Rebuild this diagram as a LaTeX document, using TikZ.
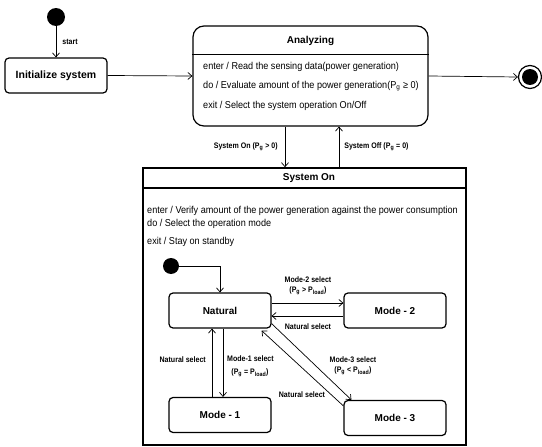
\documentclass[tikz,border=0pt]{standalone}
\usepackage{fontspec}
\setmainfont{Liberation Sans}
\newfontfamily\condfont{Liberation Sans}[FakeStretch=0.91]
\newfontfamily\lblfont{Liberation Sans}[FakeStretch=0.88]
\usetikzlibrary{arrows.meta,calc}
\begin{document}
\begin{tikzpicture}[x=1pt,y=-1pt,
  statebox/.style={draw, line width=1.2pt, rounded corners=4pt, minimum width=102pt, minimum height=35pt, font=\fontsize{10}{12}\selectfont\bfseries, inner sep=0pt},
  arr/.style={-{Straight Barb[length=4pt,width=7pt]}, line width=0.7pt},
  lbl/.style={font=\lblfont\fontsize{8}{9.5}\selectfont\bfseries, inner sep=0pt},
  body/.style={font=\condfont\fontsize{10}{12}\selectfont, inner sep=0pt, anchor=west},
  title/.style={font=\fontsize{10}{12}\selectfont\bfseries, inner sep=0pt},
  dot/.style={circle, fill=black, inner sep=0pt, minimum size=#1},
  dot/.default=18pt]
\useasboundingbox (0,0) rectangle (542,447);

% top level
\node[dot] (start) at (56,17) {};
\node[statebox, font=\fontsize{10.5}{12}\selectfont\bfseries] (init) at (56,75.5) {Initialize system};
\draw[arr] (start) -- (init.north) node[lbl, pos=0.5, anchor=west, xshift=6pt] {start};

\node[draw, line width=1.2pt, rounded corners=11pt, minimum width=235pt, minimum height=100pt, inner sep=0pt] (ana) at (310.5,76) {};
\draw[line width=0.8pt] (ana.west |- 0,54) coordinate (anaL) -- (ana.east |- 0,54) coordinate (anaR);
\node[title] (anaT) at (310.5,41) {Analyzing};
\node[body] (ana1) at (203,67) {enter / Read the sensing data(power generation)};
\node[body] (ana2) at (203,86) {do / Evaluate amount of the power generation(P\textsubscript{g} ≥ 0)};
\node[body] (ana3) at (203,106) {exit / Select the system operation On/Off};

\draw[arr] (init.east) -- (ana.west);

\node[circle, draw, line width=1.2pt, minimum size=23pt, inner sep=0pt] (final) at (530,77) {};
\node[dot=16pt] (finalin) at (final.center) {};
\draw[arr] (ana.east) -- (final.west);

% System On composite state
\node[draw, line width=1.6pt, minimum width=323pt, minimum height=277pt, inner sep=0pt] (son) at (304.5,306.5) {};
\draw[line width=1.2pt] (son.west |- 0,188) coordinate (sonL) -- (son.east |- 0,188) coordinate (sonR);
\node[title] (sonT) at (309,178) {System On};
\node[body] (son1) at (147,211) {enter / Verify amount of the power generation against the power consumption};
\node[body] (son2) at (147,223.5) {do / Select the operation mode};
\node[body] (son3) at (147,242) {exit / Stay on standby};

\coordinate (xa) at (285,0);
\coordinate (xb) at (339,0);
\draw[arr] (ana.south -| xa) -- (son.north -| xa) node[lbl, midway, anchor=east, xshift=-7pt] {System On (P\textsubscript{g} > 0)};
\draw[arr] (son.north -| xb) -- (ana.south -| xb) node[lbl, midway, anchor=west, xshift=5pt] {System Off (P\textsubscript{g} = 0)};

% inner states
\node[dot=16pt] (istart) at (171,266) {};
\node[statebox] (nat) at (220,310.5) {Natural};
\node[statebox] (m2) at (395,310.5) {Mode - 2};
\node[statebox] (m1) at (220,415) {Mode - 1};
\node[statebox] (m3) at (395,418) {Mode - 3};

\draw[arr] (istart.east) -| (nat.north);

\draw[arr] ($(nat.east)+(0,-7.5)$) -- ($(m2.west)+(0,-7.5)$);
\draw[arr] ($(m2.west)+(0,5.5)$) -- ($(nat.east)+(0,5.5)$);
\node[lbl, align=center] (l2) at (308,285.5) {Mode-2 select\\[1pt](P\textsubscript{g} > P\textsubscript{load})};
\node[lbl] (l2b) at (308,327) {Natural select};

\draw[arr] ($(m1.north)+(-8,0)$) -- ($(nat.south)+(-8,0)$);
\draw[arr] ($(nat.south)+(3,0)$) -- ($(m1.north)+(3,0)$);
\node[lbl, anchor=east] (l1b) at (206,360) {Natural select};
\node[lbl, anchor=west] (l1a) at (227,359) {Mode-1 select};
\node[lbl] (l1c) at (250,373) {(P\textsubscript{g} = P\textsubscript{load})};

\draw[arr] ($(nat.south east)+(0,-5)$) -- ($(m3.north west)+(8,0)$);
\draw[arr] ($(m3.north west)+(0,6)$) -- ($(nat.south east)+(-10,2)$);
\node[lbl, align=center] (l3) at (353,365.5) {Mode-3 select\\[1pt](P\textsubscript{g} < P\textsubscript{load})};
\node[lbl] (l3b) at (302,395) {Natural select};
\end{tikzpicture}
\end{document}
